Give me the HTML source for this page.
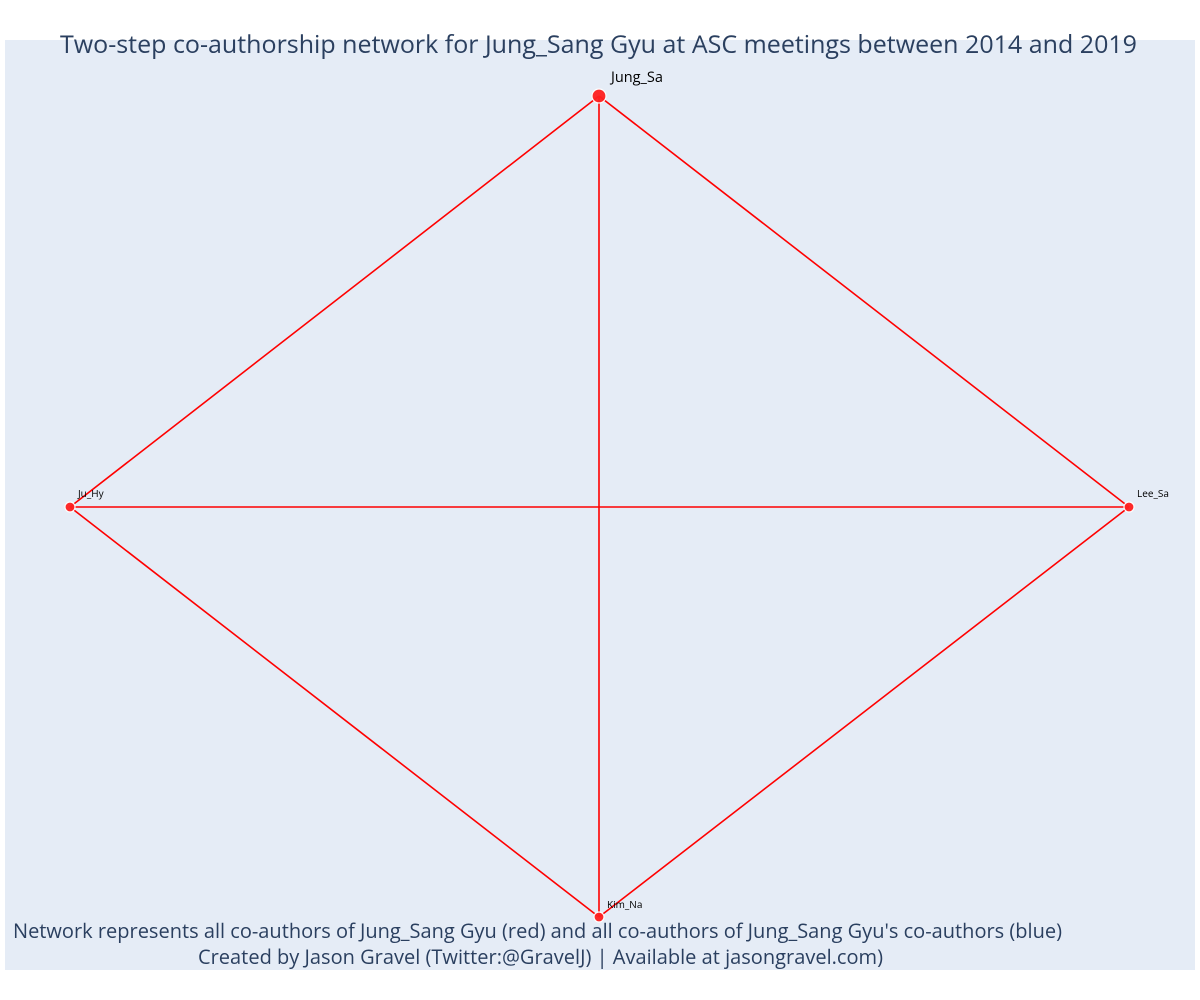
<!DOCTYPE html>
<html><head><meta charset="utf-8"><style>
html,body{margin:0;padding:0;background:#fff;}
svg{display:block;font-family:"Open Sans","Liberation Sans",sans-serif;}
</style></head><body>
<svg width="1200" height="1000" viewBox="0 0 1200 1000" xmlns="http://www.w3.org/2000/svg">
<rect x="0" y="0" width="1200" height="1000" fill="#fff"/>
<rect x="5" y="40" width="1190" height="930" fill="#e5ecf6"/>
<text x="598.5" y="53" text-anchor="middle" font-size="25" fill="#2a3f5f" textLength="1077" lengthAdjust="spacingAndGlyphs">Two-step co-authorship network for Jung_Sang Gyu at ASC meetings between 2014 and 2019</text>
<g stroke="#ff0000" stroke-width="1.6" fill="none">
<line x1="599" y1="96" x2="70" y2="507"/>
<line x1="599" y1="96" x2="1129" y2="507"/>
<line x1="599" y1="96" x2="599" y2="917"/>
<line x1="70" y1="507" x2="1129" y2="507"/>
<line x1="70" y1="507" x2="599" y2="917"/>
<line x1="1129" y1="507" x2="599" y2="917"/>
</g>
<g fill="#ff2020" stroke="#fff" stroke-width="1.2" opacity="0.95">
<circle cx="599" cy="96" r="7"/>
<circle cx="70" cy="507" r="5"/>
<circle cx="1129" cy="507" r="5"/>
<circle cx="599" cy="917" r="5"/>
</g>
<g fill="#000">
<text x="611" y="82" font-size="14.5">Jung_Sa</text>
<text x="78" y="497" font-size="10">Ju_Hy</text>
<text x="1137" y="497" font-size="10">Lee_Sa</text>
<text x="607" y="908" font-size="10">Kim_Na</text>
</g>
<g fill="#2a3f5f" font-size="20">
<text x="537.5" y="938" text-anchor="middle" textLength="1049" lengthAdjust="spacingAndGlyphs">Network represents all co-authors of Jung_Sang Gyu (red) and all co-authors of Jung_Sang Gyu's co-authors (blue)</text>
<text x="540.5" y="964" text-anchor="middle" textLength="685" lengthAdjust="spacingAndGlyphs">Created by Jason Gravel (Twitter:@GravelJ) | Available at jasongravel.com)</text>
</g>
</svg>
</body></html>
